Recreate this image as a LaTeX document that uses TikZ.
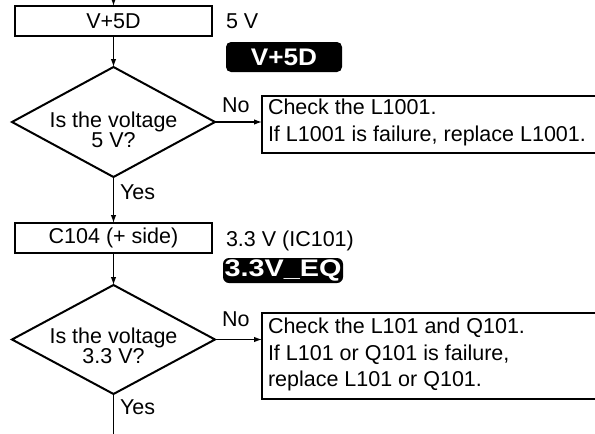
\documentclass[tikz,border=0pt]{standalone}
\usepackage{fontspec}
\setmainfont{Liberation Sans}
\usetikzlibrary{shapes.geometric,arrows.meta}
\begin{document}
\begin{tikzpicture}[x=1pt,y=-1pt,
  every node/.style={font=\fontsize{21.5}{26}\selectfont, inner sep=0pt, outer sep=0pt},
  pbox/.style={draw, line width=2pt, minimum width=197pt, minimum height=30pt},
  dec/.style={draw, diamond, line width=2pt, minimum width=203pt},
  chk/.style={draw, line width=2.2pt, minimum width=360pt, anchor=north west},
  tag/.style={fill=black, text=white, font=\fontsize{24}{24}\selectfont\bfseries},
  dtext/.style={anchor=north, align=center, font=\fontsize{21.5}{20.5}\selectfont},
  ctext/.style={anchor=north west, align=left, font=\fontsize{21.5}{26.5}\selectfont},
  conn/.style={line width=1.2pt, -{Latex[length=8pt,width=5.5pt]}},
  lbl/.style={anchor=base west}
]
\useasboundingbox (0,0) rectangle (595,434);
% first block
\coordinate (top) at (113.5,-30);
\node[pbox] (b1) at (113.5,21) {V+5D};
\node[lbl] (v1) at (226,28.5) {5 V};
\node[tag, rounded corners=5pt, minimum width=116pt, minimum height=30pt] (t1) at (284,57) {\scalebox{1.09}[1]{V+5D}};
\node[dec, minimum height=110pt] (d1) at (113.5,122) {};
\node[dtext] (d1t) at (113.5,111.5) {Is the voltage\\5 V?};
\node[lbl] (n1) at (222,112) {No};
\node[chk, minimum height=57pt] (c1) at (262,96) {};
\node[ctext] (c1t) at (268,99) {Check the L1001.\\If L1001 is failure, replace L1001.};
\node[lbl] (y1) at (120,199) {Yes};
% second block
\node[pbox] (b2) at (113.5,238) {C104 (+ side)};
\node[lbl] (v2) at (226,246) {3.3 V (IC101)};
\node[tag, rounded corners=6pt, minimum width=120pt, minimum height=25pt] (t2) at (283,270.5) {\scalebox{1.2}[1]{3.3V\_EQ}};
\node[dec, minimum height=109pt] (d2) at (113.5,339.5) {};
\node[dtext] (d2t) at (113.5,327.5) {Is the voltage\\3.3 V?};
\node[lbl] (n2) at (222,326) {No};
\node[chk, minimum height=86pt] (c2) at (262,313) {};
\node[ctext] (c2t) at (268,318) {Check the L101 and Q101.\\If L101 or Q101 is failure,\\replace L101 or Q101.};
\node[lbl] (y2) at (120,414) {Yes};
\coordinate (bot) at (113.5,470);
% connectors
\draw[conn] (top) -- (b1.north);
\draw[conn] (b1.south) -- (d1.north);
\draw[conn] (d1.east) -- (d1.east -| c1.west);
\draw[conn] (d1.south) -- (b2.north);
\draw[conn] (b2.south) -- (d2.north);
\draw[conn] (d2.east) -- (d2.east -| c2.west);
\draw[conn] (d2.south) -- (bot);
\end{tikzpicture}
\end{document}
